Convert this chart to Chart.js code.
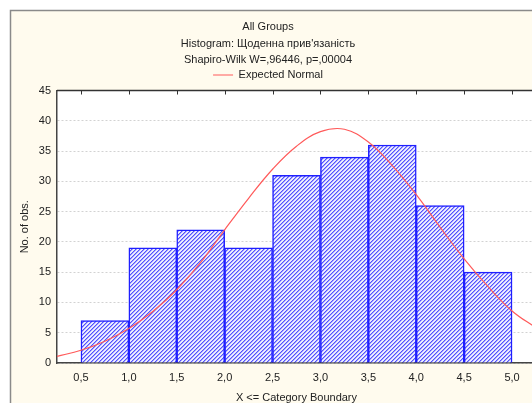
<!DOCTYPE html>
<html>
<head>
<meta charset="utf-8">
<script src="https://cdn.jsdelivr.net/npm/chart.js@4"></script>
<style>
  html, body { margin: 0; padding: 0; background: #fff; overflow: hidden; }
  #wrap { position: relative; width: 532px; height: 403px; overflow: hidden; }
  canvas { position: absolute; left: 0; top: 0; }
</style>
</head>
<body>
<div id="wrap"><canvas id="hist" width="560" height="403"></canvas></div>
<script>
// category boundaries (x tick labels) and histogram counts
const boundaries = [0.5, 1.0, 1.5, 2.0, 2.5, 3.0, 3.5, 4.0, 4.5, 5.0];
const binCentres = [0.75, 1.25, 1.75, 2.25, 2.75, 3.25, 3.75, 4.25, 4.75];
const counts = [7, 19, 22, 19, 31, 34, 36, 26, 15];
const yTicks = [0, 5, 10, 15, 20, 25, 30, 35, 40, 45];

// expected normal curve
const normalX = [0.25, 0.5, 0.75, 1.0, 1.25, 1.5, 1.75, 2.0, 2.25, 2.5, 2.75,
                 3.0, 3.25, 3.5, 3.75, 4.0, 4.25, 4.5, 4.75, 5.0, 5.25];
const normalY = [1.1, 2.1, 3.6, 5.7, 8.5, 12.1, 16.6, 22.0, 27.2, 32.0, 35.8,
                 38.2, 38.6, 36.5, 32.6, 27.8, 22.4, 17.2, 12.6, 8.6, 5.8];

const titleLines = ['All Groups', "Histogram: Щоденна прив'язаність", 'Shapiro-Wilk W=,96446, p=,00004'];

const FONT = '"Liberation Sans", Arial, sans-serif';
const fmt = v => v.toFixed(1).replace('.', ',');

// diagonal hatch fill for the bars
function makeHatch() {
    const n = 4;
    const c = document.createElement('canvas');
    c.width = n; c.height = n;
    const g = c.getContext('2d');
    const shades = ['#5252ff', '#a4a4ff', '#f2f2ff', '#e4e4ff'];
    for (let x = 0; x < n; x++) {
        for (let y = 0; y < n; y++) {
            g.fillStyle = shades[(x + y) % n];
            g.fillRect(x, y, 1, 1);
        }
    }
    return g.createPattern(c, 'repeat');
}

// cream panel behind the chart + framed plot area
const panel = {
    id: 'panel',
    beforeDraw(chart) {
        const ctx = chart.ctx;
        const a = chart.chartArea;
        ctx.save();
        ctx.fillStyle = '#fffbee';
        ctx.fillRect(10, 10, chart.width, chart.height);
        ctx.strokeStyle = '#8a8a8a';
        ctx.lineWidth = 1.5;
        ctx.beginPath();
        ctx.moveTo(10.5, chart.height);
        ctx.lineTo(10.5, 10.5);
        ctx.lineTo(chart.width, 10.5);
        ctx.stroke();
        ctx.fillStyle = '#ffffff';
        ctx.fillRect(a.left, a.top, a.right - a.left, a.bottom - a.top);
        ctx.restore();
    },
    afterDatasetsDraw(chart) {
        const ctx = chart.ctx;
        const a = chart.chartArea;
        const xs = chart.scales.x;
        ctx.save();
        ctx.strokeStyle = '#333';
        ctx.lineWidth = 1.5;
        ctx.beginPath();
        ctx.moveTo(a.left, a.top);
        ctx.lineTo(a.right, a.top);
        ctx.stroke();
        ctx.lineWidth = 1;
        ctx.beginPath();
        boundaries.forEach(v => {
            const px = Math.round(xs.getPixelForValue(v)) + 0.5;
            ctx.moveTo(px, a.top);
            ctx.lineTo(px, a.top + 4);
        });
        ctx.stroke();
        ctx.restore();
    }
};

const ctx = document.getElementById('hist').getContext('2d');

new Chart(ctx, {
    data: {
        datasets: [
            {
                type: 'bar',
                label: 'Histogram',
                data: binCentres.map((x, i) => ({ x: x, y: counts[i] })),
                backgroundColor: makeHatch(),
                borderColor: '#1f1fff',
                borderWidth: 1.5,
                barPercentage: 1,
                categoryPercentage: 1,
                order: 2
            },
            {
                type: 'line',
                label: 'Expected Normal',
                data: normalX.map((x, i) => ({ x: x, y: normalY[i] })),
                borderColor: '#ff5a5a',
                backgroundColor: '#ff5a5a',
                borderWidth: 1.2,
                pointRadius: 0,
                pointStyle: 'line',
                tension: 0.4,
                fill: false,
                order: 1
            }
        ]
    },
    options: {
        responsive: false,
        animation: false,
        layout: { padding: { left: 0, right: 24, top: 0, bottom: 0 } },
        plugins: {
            title: {
                display: true,
                text: titleLines,
                color: '#222',
                font: { family: FONT, size: 11, weight: 'normal', lineHeight: 1.5 },
                padding: { top: 19, bottom: 0 }
            },
            legend: {
                display: true,
                labels: {
                    filter: item => item.datasetIndex === 1,
                    usePointStyle: true,
                    pointStyleWidth: 20,
                    color: '#222',
                    font: { family: FONT, size: 11 },
                    padding: 1
                }
            },
            tooltip: { enabled: false }
        },
        scales: {
            x: {
                type: 'linear',
                offset: false,
                min: 0.25,
                max: 5.25,
                afterBuildTicks: scale => { scale.ticks = boundaries.map(v => ({ value: v })); },
                afterFit: scale => { scale.height = 40; },
                ticks: {
                    color: '#222',
                    font: { family: FONT, size: 11 },
                    padding: 8,
                    maxRotation: 0,
                    callback: v => fmt(v)
                },
                grid: { display: false, drawTicks: false },
                border: { display: true, color: '#444', width: 1.5 },
                title: {
                    display: true,
                    text: 'X <= Category Boundary',
                    color: '#222',
                    font: { family: FONT, size: 11, lineHeight: 1.0 },
                    padding: { top: 0, bottom: 0 }
                }
            },
            y: {
                min: 0,
                max: 45,
                afterBuildTicks: scale => { scale.ticks = yTicks.map(v => ({ value: v })); },
                afterFit: scale => { scale.width = 57; },
                ticks: {
                    color: '#222',
                    font: { family: FONT, size: 11 },
                    padding: 6
                },
                grid: {
                    color: '#d2d2d2',
                    drawTicks: false
                },
                border: { display: true, color: '#444', width: 1.5, dash: [2, 2] },
                title: {
                    display: true,
                    text: 'No. of obs.',
                    color: '#222',
                    font: { family: FONT, size: 11 },
                    padding: { top: 18, bottom: 0 }
                }
            }
        }
    },
    plugins: [panel]
});
</script>
</body>
</html>
